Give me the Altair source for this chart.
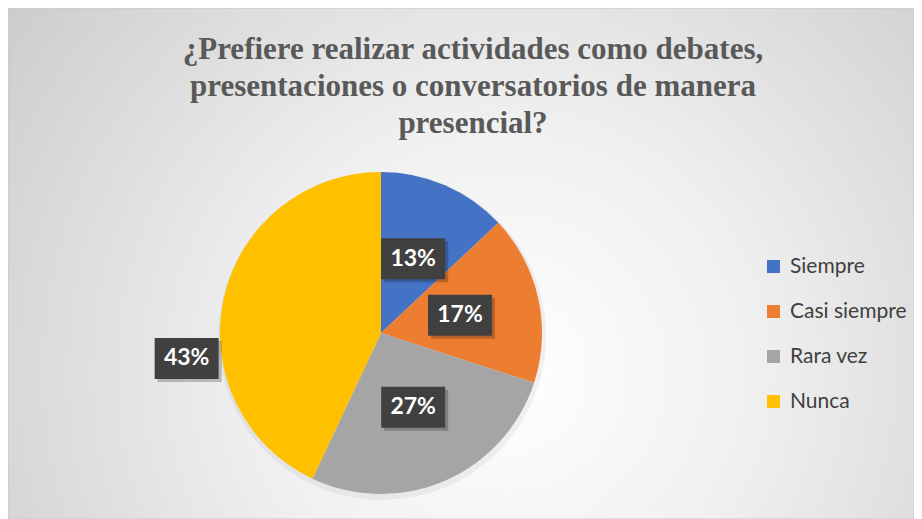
import altair as alt
import pandas as pd

# ---- data ----
categories = ["Siempre", "Casi siempre", "Rara vez", "Nunca"]
percents = [13, 17, 27, 43]
colors = ["#4472C4", "#ED7D31", "#A5A5A5", "#FFC000"]
title_lines = [
    "¿Prefiere realizar actividades como debates,",
    "presentaciones o conversatorios de manera",
    "presencial?",
]

df = pd.DataFrame({"cat": categories, "pct": percents, "idx": list(range(len(categories)))})

# ---- layout ----
W, H = 906, 511
CX, CY, R = 373, 325, 161
BW, BH = 64, 41

bg = alt.Chart(pd.DataFrame({"a": [0]})).mark_rect(
    fill={
        "gradient": "radial",
        "x1": 0.55, "y1": 0.62, "r1": 0,
        "x2": 0.55, "y2": 0.62, "r2": 0.78,
        "stops": [
            {"offset": 0, "color": "#ffffff"},
            {"offset": 0.35, "color": "#f0f0f0"},
            {"offset": 1, "color": "#c4c4c4"},
        ],
    },
    stroke="#c8c8c8",
    strokeWidth=1,
).encode(x=alt.value(0), x2=alt.value(W), y=alt.value(0), y2=alt.value(H))

title = alt.Chart(pd.DataFrame({"a": [0]})).mark_text(
    text=title_lines,
    font="Liberation Serif",
    fontWeight="bold",
    fontSize=31,
    lineHeight=37,
    color="#595959",
    align="center",
    baseline="alphabetic",
).encode(x=alt.value(465), y=alt.value(51))

base = alt.Chart(df)

shadow = base.mark_arc(outerRadius=R + 3, x=CX + 1, y=CY + 3, color="#000000", opacity=0.05).encode(
    theta=alt.Theta("pct:Q", stack=True), order=alt.Order("idx:Q")
)

pie = base.mark_arc(outerRadius=R, x=CX, y=CY).encode(
    theta=alt.Theta("pct:Q", stack=True),
    color=alt.Color(
        "cat:N",
        scale=alt.Scale(domain=categories, range=colors),
        legend=alt.Legend(
            title=None,
            orient="none",
            legendX=755,
            legendY=248,
            symbolType="square",
            symbolSize=170,
            symbolStrokeWidth=0,
            symbolOpacity=1,
            labelFontSize=21,
            labelFont="Lato",
            labelColor="#404040",
            rowPadding=23,
            labelOffset=6,
            padding=0,
        ),
    ),
    order=alt.Order("idx:Q"),
)

labels_base = (
    base.transform_window(cum="sum(pct)", sort=[alt.SortField("idx")], frame=[None, 0])
    .transform_joinaggregate(total="sum(pct)")
    .transform_calculate(mid="(datum.cum - datum.pct/2)/datum.total*2*PI")
    .transform_calculate(
        r="datum.pct > 40 ? 196 : 81",
        ang="datum.pct > 40 ? datum.mid - 0.35 : datum.mid",
    )
    .transform_calculate(
        px=f"{CX} + datum.r*sin(datum.ang)",
        py=f"{CY} - datum.r*cos(datum.ang)",
        lbl="datum.pct + '%'",
    )
    .transform_calculate(
        bx1=f"datum.px - {BW/2}", bx2=f"datum.px + {BW/2}",
        by1=f"datum.py - {BH/2}", by2=f"datum.py + {BH/2}",
        sx1=f"datum.px - {BW/2} + 3", sx2=f"datum.px + {BW/2} + 3",
        sy1=f"datum.py - {BH/2} + 3", sy2=f"datum.py + {BH/2} + 3",
    )
)

box_shadow = labels_base.mark_rect(color="#000000", opacity=0.22).encode(
    x=alt.X("sx1:Q", scale=None, axis=None), x2="sx2:Q",
    y=alt.Y("sy1:Q", scale=None, axis=None), y2="sy2:Q",
)

boxes = labels_base.mark_rect(color="#404040").encode(
    x=alt.X("bx1:Q", scale=None, axis=None), x2="bx2:Q",
    y=alt.Y("by1:Q", scale=None, axis=None), y2="by2:Q",
)

texts = labels_base.mark_text(
    font="Lato", fontWeight="bold", fontSize=23, color="#ffffff", align="center", baseline="middle"
).encode(
    x=alt.X("px:Q", scale=None, axis=None),
    y=alt.Y("py:Q", scale=None, axis=None),
    text="lbl:N",
)

chart = (
    alt.layer(bg, title, shadow, pie, box_shadow, boxes, texts)
    .properties(width=W, height=H, padding=0, autosize="none")
    .configure_view(stroke=None)
)

chart.save("out.html", embed_options={"renderer": "svg", "actions": False})
